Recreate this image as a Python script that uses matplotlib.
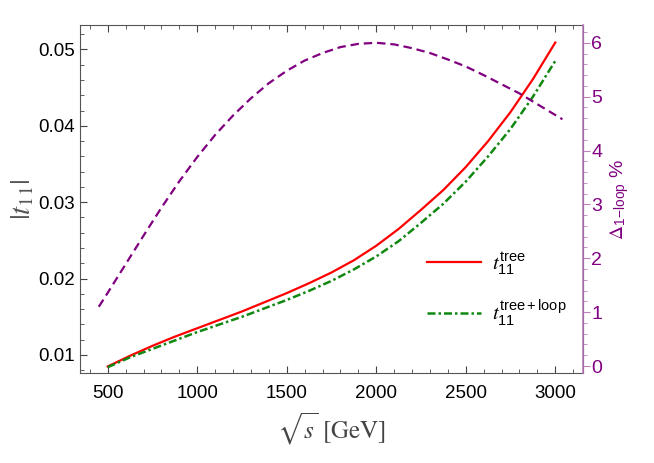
import numpy as np
import matplotlib
matplotlib.use('Agg')
import matplotlib.pyplot as plt
from matplotlib.ticker import MultipleLocator, FormatStrFormatter

plt.rcParams['font.family'] = ['Liberation Sans', 'DejaVu Sans']
plt.rcParams['mathtext.fontset'] = 'stix'

# --- data
sqrt_s = [500, 625, 750, 875, 1000, 1125, 1250, 1375, 1500, 1625, 1750, 1875, 2000,
          2125, 2250, 2375, 2500, 2625, 2750, 2875, 3000]
t_tree = [0.0085, 0.0099, 0.0112, 0.0124, 0.0135, 0.0146, 0.0157, 0.0169, 0.0181, 0.0194,
          0.0208, 0.0224, 0.0243, 0.0265, 0.0290, 0.0316, 0.0346, 0.0380, 0.0418, 0.0461, 0.0509]
t_loop = [0.0084, 0.0097, 0.0108, 0.0119, 0.0130, 0.0140, 0.0150, 0.0161, 0.0172, 0.0184,
          0.0197, 0.0212, 0.0229, 0.0249, 0.0273, 0.0298, 0.0327, 0.0360, 0.0396, 0.0438, 0.0485]

sqrt_s_d = [450, 500, 600, 700, 800, 900, 1000, 1100, 1200, 1300, 1400, 1500, 1600, 1700,
            1800, 1900, 2000, 2100, 2200, 2300, 2400, 2500, 2600, 2700, 2800, 2900, 3000, 3040]
delta = [1.10, 1.36, 1.89, 2.42, 2.94, 3.43, 3.88, 4.29, 4.65, 4.97, 5.25, 5.48, 5.67, 5.81,
         5.92, 5.98, 6.00, 5.97, 5.90, 5.81, 5.69, 5.56, 5.40, 5.23, 5.06, 4.86, 4.66, 4.58]

purple = '#800080'

fig = plt.figure(figsize=(6.54, 4.63), dpi=100)
ax = fig.add_axes([80/654, 1 - 372.7/463, 503/654, 347.7/463])
ax2 = ax.twinx()

ax.plot(sqrt_s, t_tree, color='red', lw=1.6,
        label=r'$t_{\mathregular{11}}^{\mathregular{tree}}$')
ax.plot(sqrt_s, t_loop, color='#118811', lw=1.8, ls=(0, (3.2, 1.2, 1, 1.2)),
        label=r'$t_{\mathregular{11}}^{\mathregular{tree+loop}}$')
ax2.plot(sqrt_s_d, delta, color=purple, lw=1.6, ls=(0, (3.8, 2.2)))

ax.set_xlim(345, 3155)
ax.set_ylim(0.00768, 0.0532)
ax2.set_ylim(-0.124, 6.33)

ax.xaxis.set_major_locator(MultipleLocator(500))
ax.xaxis.set_minor_locator(MultipleLocator(100))
ax.yaxis.set_major_locator(MultipleLocator(0.01))
ax.yaxis.set_minor_locator(MultipleLocator(0.002))
ax2.yaxis.set_major_locator(MultipleLocator(1))
ax2.yaxis.set_minor_locator(MultipleLocator(0.2))
ax.yaxis.set_major_formatter(FormatStrFormatter('%.2f'))

ax.tick_params(which='both', direction='in', top=True, right=False, labelsize=13.5,
               colors='#444444', labelcolor='black')
ax.tick_params(which='major', length=5)
ax.tick_params(which='minor', length=3)
ax.tick_params(axis='x', which='major', pad=9)
ax2.tick_params(which='both', direction='out', colors='#c080c0', labelcolor=purple,
                labelsize=14, pad=1)
ax2.tick_params(which='major', length=5)
ax2.tick_params(which='minor', length=3)

for s in ['left', 'bottom', 'top']:
    ax.spines[s].set_color('#555555')
ax2.spines['right'].set_color('#c080c0')
ax2.spines['right'].set_linewidth(1.2)
for s in ['left', 'bottom', 'top']:
    ax2.spines[s].set_visible(False)

ax.set_xlabel(r'$\sqrt{s}\ [\mathrm{GeV}]$', fontsize=18, color='#444444', labelpad=6)
ax.set_ylabel(r'$|t_{11}|$', fontsize=21, color='#555555', labelpad=2)
ax2.set_ylabel(r'$\Delta_{\mathregular{1\!-\!loop}}$ %', fontsize=14, color=purple, labelpad=4)

ax.legend(loc='center left', bbox_to_anchor=(0.653, 0.24), frameon=False, fontsize=15,
          handlelength=2.6, labelspacing=1.0, handletextpad=0.5)

plt.savefig('out.png', dpi=100)
